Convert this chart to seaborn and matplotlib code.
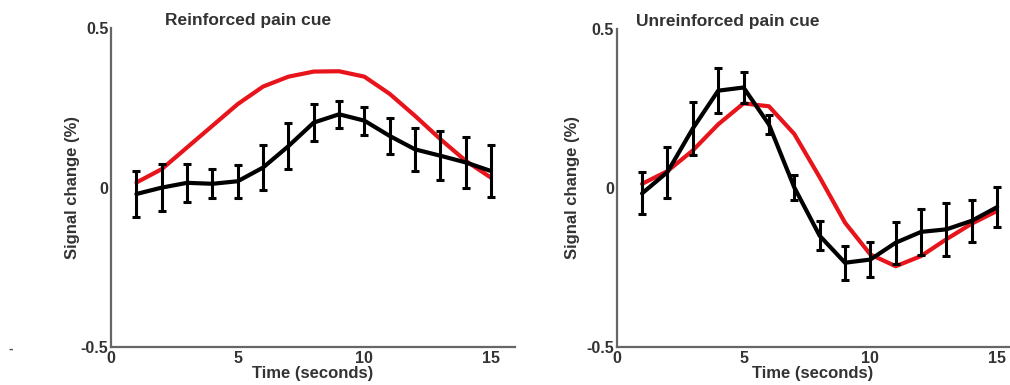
import numpy as np
import pandas as pd
import matplotlib
matplotlib.use("Agg")
import matplotlib.pyplot as plt
import seaborn as sns

time = [1, 2, 3, 4, 5, 6, 7, 8, 9, 10, 11, 12, 13, 14, 15]

reinf_obs = [-0.02, 0.0, 0.015, 0.012, 0.02, 0.063, 0.13, 0.204, 0.23, 0.21, 0.162, 0.12, 0.10, 0.079, 0.052]
reinf_err = [0.073, 0.073, 0.06, 0.045, 0.052, 0.072, 0.073, 0.057, 0.042, 0.044, 0.055, 0.067, 0.077, 0.08, 0.081]
reinf_model = [0.016, 0.058, 0.126, 0.194, 0.262, 0.317, 0.348, 0.364, 0.365, 0.348, 0.294, 0.225, 0.152, 0.084, 0.031]

unreinf_obs = [-0.017, 0.05, 0.187, 0.306, 0.316, 0.2, 0.002, -0.15, -0.235, -0.225, -0.172, -0.138, -0.13, -0.103, -0.06]
unreinf_err = [0.066, 0.08, 0.082, 0.07, 0.048, 0.029, 0.04, 0.045, 0.053, 0.054, 0.066, 0.072, 0.084, 0.066, 0.063]
unreinf_model = [0.013, 0.053, 0.118, 0.2, 0.266, 0.257, 0.17, 0.034, -0.109, -0.209, -0.246, -0.214, -0.161, -0.112, -0.072]

titles = ["Reinforced pain cue", "Unreinforced pain cue"]
xticks = [0, 5, 10, 15]
yticks = [-0.5, 0, 0.5]
ytick_labels = ["-0.5", "0", "0.5"]

sns.set_theme(style="white")
plt.rcParams['font.family'] = ['Liberation Sans', 'DejaVu Sans']
plt.rcParams['font.weight'] = 'bold'

fig = plt.figure(figsize=(10.1, 3.85), dpi=100)
ax1 = fig.add_axes([0.110, 0.0987, 0.400, 0.828])
ax2 = fig.add_axes([0.6106, 0.0987, 0.388, 0.826])

panels = [
    (ax1, reinf_obs, reinf_err, reinf_model, (0, 15.95), 0.134, -0.078),
    (ax2, unreinf_obs, unreinf_err, unreinf_model, (0, 15.45), 0.05, -0.093),
]

for (ax, obs, err, model, xlim, tx, ylx), title in zip(panels, titles):
    df = pd.DataFrame({"t": time, "obs": obs, "model": model})
    sns.lineplot(data=df, x="t", y="model", ax=ax, color="#e8141c", linewidth=3.0, zorder=2)
    sns.lineplot(data=df, x="t", y="obs", ax=ax, color="black", linewidth=3.0, zorder=3)
    ax.errorbar(time, obs, yerr=err, fmt="none", ecolor="black", elinewidth=2.2,
                capsize=3.0, capthick=2.2, zorder=4)
    ax.set_xlim(*xlim)
    ax.set_ylim(-0.5, 0.5)
    ax.set_xticks(xticks)
    ax.set_xticklabels([str(v) for v in xticks])
    ax.set_yticks(yticks)
    ax.set_yticklabels(ytick_labels)
    ax.tick_params(direction="in", length=4, width=1, colors="#555555",
                   labelcolor="#333333", labelsize=11.5)
    ax.tick_params(axis="x", pad=3)
    ax.tick_params(axis="y", pad=2)
    for lab in ax.get_xticklabels() + ax.get_yticklabels():
        lab.set_fontweight("bold")
    for s in ["top", "right"]:
        ax.spines[s].set_visible(False)
    for s in ["left", "bottom"]:
        ax.spines[s].set_color("#666666")
        ax.spines[s].set_linewidth(1.6)
    ax.set_xlabel("Time (seconds)", fontsize=12, fontweight="bold", color="#333333", labelpad=0)
    ax.set_ylabel("Signal change (%)", fontsize=12, fontweight="bold", color="#333333")
    ax.yaxis.set_label_coords(ylx, 0.5)
    ax.text(tx, 1.0, title, transform=ax.transAxes, fontsize=12.5, fontweight="bold",
            color="#333333", ha="left", va="bottom")

fig.text(0.008, 0.085, "-", fontsize=10, fontweight="bold", color="#555555")

fig.savefig("out.png", dpi=100)
